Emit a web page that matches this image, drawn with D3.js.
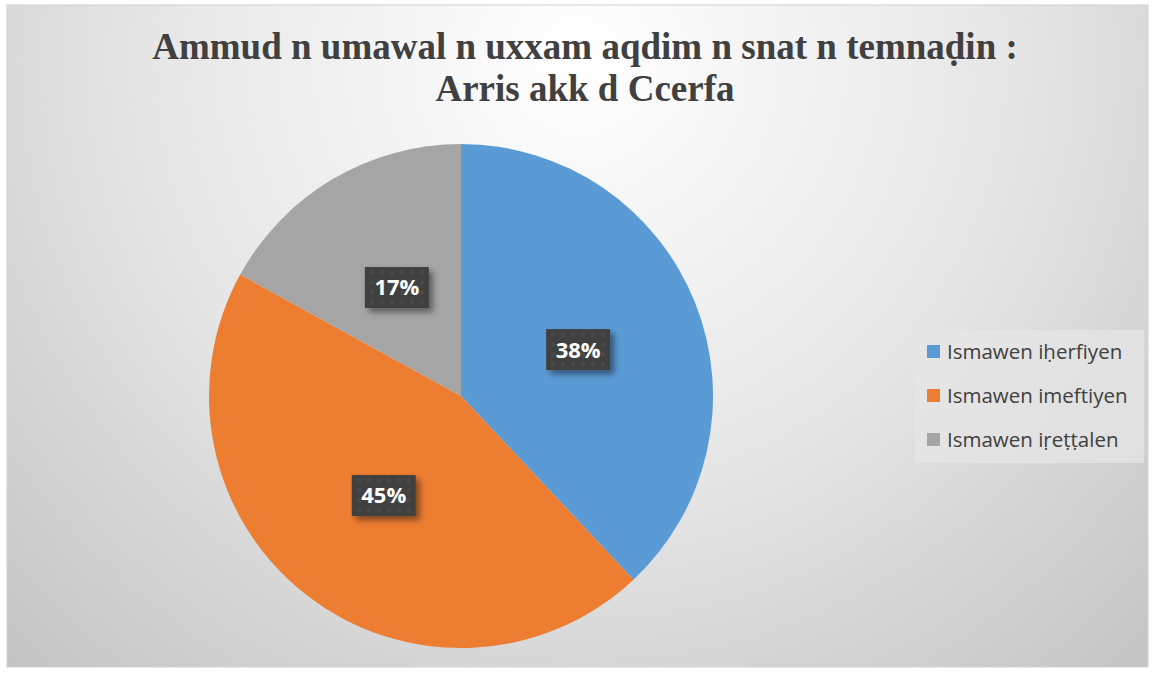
<!DOCTYPE html>
<html><head><meta charset="utf-8">
<script src="https://cdn.jsdelivr.net/npm/d3@7"></script>
<style>body{margin:0;background:#fff;}svg{display:block;}</style>
</head><body>
<script>
const categories = ["Ismawen iḥerfiyen", "Ismawen imeftiyen", "Ismawen iṛeṭṭalen"];
const values = [38, 45, 17];
const colors = ["#5b9bd5", "#ed7d31", "#a5a5a5"];
const titleLines = ["Ammud n umawal n uxxam aqdim n snat n temnaḍin :", "Arris akk d Ccerfa"];

const W = 1152, H = 673;
const svg = d3.select("body").append("svg").attr("width", W).attr("height", H);
const defs = svg.append("defs");
const rg = defs.append("radialGradient").attr("id","bg").attr("gradientUnits","userSpaceOnUse")
  .attr("cx",580).attr("cy",60).attr("r",830).attr("fx",580).attr("fy",60);
rg.append("stop").attr("offset","0").attr("stop-color","#ffffff");
rg.append("stop").attr("offset","0.52").attr("stop-color","#e6e6e6");
rg.append("stop").attr("offset","0.77").attr("stop-color","#d4d4d4");
rg.append("stop").attr("offset","1").attr("stop-color","#c4c4c4");
const f = defs.append("filter").attr("id","sh").attr("x","-30%").attr("y","-30%").attr("width","160%").attr("height","170%");
f.append("feDropShadow").attr("dx",4).attr("dy",4).attr("stdDeviation",3).attr("flood-color","#000").attr("flood-opacity",0.45);
const pat = defs.append("pattern").attr("id","dots").attr("patternUnits","userSpaceOnUse").attr("width",10).attr("height",10);
pat.append("rect").attr("width",10).attr("height",10).attr("fill","#404040");
pat.append("circle").attr("cx",5).attr("cy",5).attr("r",2.2).attr("fill","#4a4a4a");

svg.append("rect").attr("x",7).attr("y",5).attr("width",1141).attr("height",662)
  .attr("fill","url(#bg)").attr("stroke","#d0d0d0").attr("stroke-width",1);

const title = svg.append("text").attr("text-anchor","middle")
  .attr("font-family","'Liberation Serif', 'Times New Roman', serif").attr("font-weight","bold")
  .attr("font-size",37).attr("fill","#404040");
titleLines.forEach((t,i)=> title.append("tspan").attr("x",585).attr("y",59+i*42).text(t));

const cx = 461, cy = 396, R = 252;
const pie = d3.pie().sort(null).value(d=>d);
const arcs = pie(values);
const arc = d3.arc().innerRadius(0).outerRadius(R);
const g = svg.append("g").attr("transform",`translate(${cx},${cy})`);
g.selectAll("path").data(arcs).join("path").attr("d",arc)
  .attr("fill",(d,i)=>colors[i]);

const labelArc = d3.arc().innerRadius(R*0.5).outerRadius(R*0.5);
const lab = g.selectAll("g.lab").data(arcs).join("g").attr("class","lab")
  .attr("transform",d=>{const c = labelArc.centroid(d); return `translate(${c[0]},${c[1]})`;});
lab.append("rect").attr("x",-32).attr("y",-20.5).attr("width",64).attr("height",41)
  .attr("fill","url(#dots)").attr("filter","url(#sh)");
lab.append("text").attr("text-anchor","middle").attr("dy","0.36em")
  .attr("font-family","'Open Sans', 'Noto Sans', sans-serif").attr("font-weight","bold")
  .attr("font-size",22).attr("fill","#ffffff").text((d,i)=>values[i]+"%");

const lg = svg.append("g");
lg.append("rect").attr("x",915).attr("y",330).attr("width",229).attr("height",133).attr("fill","#e6e6e6").attr("fill-opacity",0.75);
const items = lg.selectAll("g.it").data(categories).join("g").attr("class","it")
  .attr("transform",(d,i)=>`translate(927,${352+i*44})`);
items.append("rect").attr("x",0).attr("y",-7).attr("width",13).attr("height",13).attr("fill",(d,i)=>colors[i]);
items.append("text").attr("x",20).attr("dy","0.35em").attr("font-family","'Open Sans', 'Noto Sans', sans-serif")
  .attr("font-size",20.5).attr("fill","#404040").text(d=>d);
</script>
</body></html>
